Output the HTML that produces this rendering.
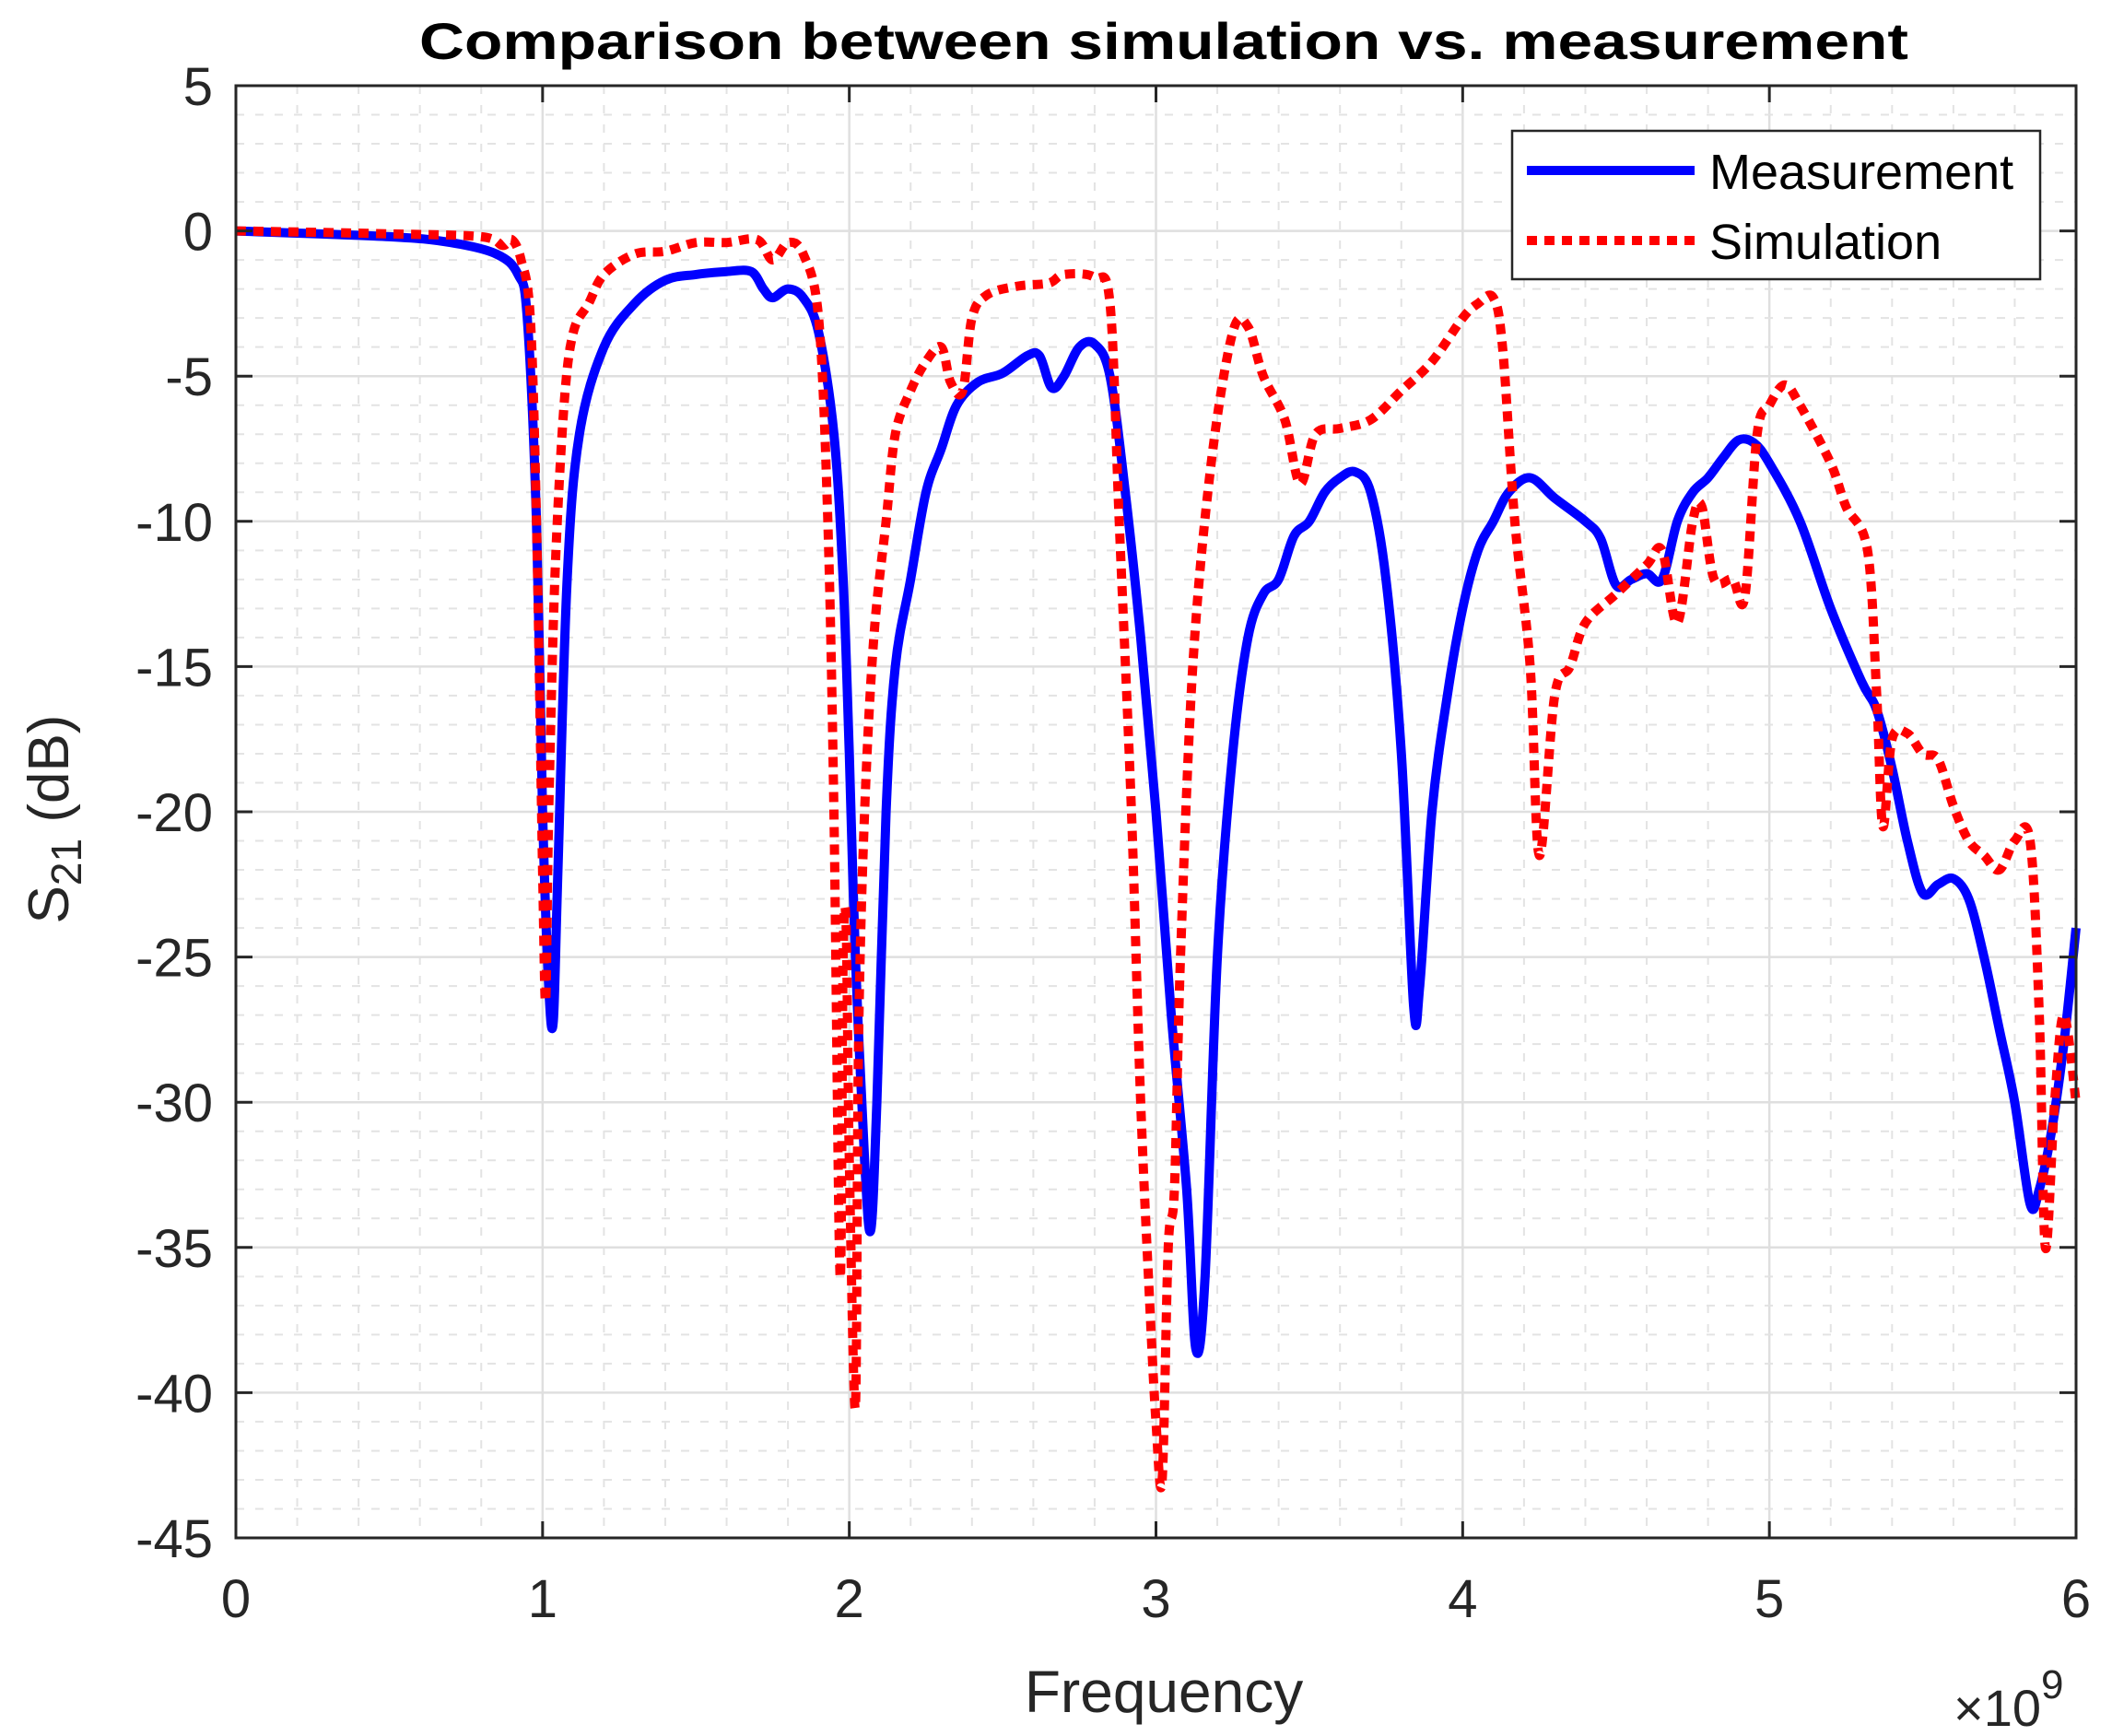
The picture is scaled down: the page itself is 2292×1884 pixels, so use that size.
<!DOCTYPE html>
<html><head><meta charset="utf-8"><style>html,body{margin:0;padding:0;background:#fff}svg{display:block}</style></head>
<body>
<svg id="s" width="2292" height="1884" viewBox="0 0 2292 1884" xmlns="http://www.w3.org/2000/svg" font-family="Liberation Sans, Arial, sans-serif">
<rect x="0" y="0" width="2292" height="1884" fill="#fff"/>
<g id="grid"></g>
<g id="series"></g>
<rect x="256" y="93" width="1997" height="1576" fill="none" stroke="#262626" stroke-width="3"/>
<g id="ticks"></g>
<text x="1263" y="64" font-size="56" font-weight="bold" text-anchor="middle" textLength="1616" lengthAdjust="spacingAndGlyphs" fill="#000">Comparison between simulation vs. measurement</text>
<text x="1263" y="1858" font-size="64" text-anchor="middle" fill="#262626">Frequency</text>
<text x="2120" y="1873" font-size="56" fill="#262626">×10<tspan font-size="44" dy="-30">9</tspan></text>
<text transform="translate(74,889) rotate(-90)" font-size="62" text-anchor="middle" fill="#262626">S<tspan font-size="46" dy="14">21</tspan><tspan dy="-14"> (dB)</tspan></text>
<rect x="1641" y="142" width="573" height="161" fill="#fff" stroke="#262626" stroke-width="2.5"/>
<line x1="1657" y1="185" x2="1839" y2="185" stroke="#0000ff" stroke-width="10"/>
<line x1="1657" y1="261" x2="1839" y2="261" stroke="#ff0000" stroke-width="10" stroke-dasharray="11,8"/>
<text x="1855" y="205" font-size="54" fill="#000">Measurement</text>
<text x="1855" y="281" font-size="54" fill="#000">Simulation</text>
</svg>
<script>
var L=256,R=2253,T=93,B=1669;
function X(f){return L+f*(R-L)/6}
function Y(d){return T+(5-d)*(B-T)/50}
var g='';
for(var i=0;i<=30;i++){var f=i*0.2,x=X(f);if(i%5==0)g+='<line x1="'+x+'" y1="'+T+'" x2="'+x+'" y2="'+B+'" stroke="#dfdfdf" stroke-width="2.5"/>';else g+='<line x1="'+x+'" y1="'+T+'" x2="'+x+'" y2="'+B+'" stroke="#e3e3e3" stroke-width="2" stroke-dasharray="9,12"/>';}
for(var d=5;d>=-45;d--){var y=Y(d);if(d%5==0)g+='<line x1="'+L+'" y1="'+y+'" x2="'+R+'" y2="'+y+'" stroke="#dfdfdf" stroke-width="2.5"/>';else g+='<line x1="'+L+'" y1="'+y+'" x2="'+R+'" y2="'+y+'" stroke="#e3e3e3" stroke-width="2" stroke-dasharray="9,12"/>';}
document.getElementById('grid').innerHTML=g;
var t='';
for(var i=0;i<=6;i++){var x=X(i);t+='<line x1="'+x+'" y1="'+B+'" x2="'+x+'" y2="'+(B-18)+'" stroke="#262626" stroke-width="3"/><line x1="'+x+'" y1="'+T+'" x2="'+x+'" y2="'+(T+18)+'" stroke="#262626" stroke-width="3"/>';t+='<text x="'+x+'" y="1755" font-size="58" text-anchor="middle" fill="#262626">'+i+'</text>';}
for(var d=5;d>=-45;d-=5){var y=Y(d);t+='<line x1="'+L+'" y1="'+y+'" x2="'+(L+18)+'" y2="'+y+'" stroke="#262626" stroke-width="3"/><line x1="'+R+'" y1="'+y+'" x2="'+(R-18)+'" y2="'+y+'" stroke="#262626" stroke-width="3"/>';t+='<text x="231" y="'+(y+21)+'" font-size="58" text-anchor="end" fill="#262626">'+d+'</text>';}
document.getElementById('ticks').innerHTML=t;
var meas=[[0,0],[0.5,-0.2],[0.7,-0.4],[0.85,-0.8],[0.92,-1.5],[0.95,-3],[0.98,-10],[1.0,-20],[1.02,-26],[1.035,-27.2],[1.05,-22],[1.08,-12],[1.12,-7],[1.2,-4],[1.3,-2.5],[1.4,-1.7],[1.5,-1.5],[1.6,-1.4],[1.68,-1.4],[1.72,-2],[1.75,-2.3],[1.8,-2],[1.85,-2.3],[1.9,-3.5],[1.95,-7],[1.98,-12],[2.0,-18],[2.02,-25],[2.05,-32],[2.07,-34.4],[2.09,-30],[2.12,-20],[2.15,-15],[2.2,-12],[2.25,-9],[2.3,-7.5],[2.35,-6],[2.42,-5.2],[2.5,-4.9],[2.58,-4.3],[2.62,-4.3],[2.66,-5.4],[2.7,-5],[2.75,-4],[2.8,-3.9],[2.85,-5],[2.9,-9],[2.95,-14],[3.0,-20],[3.05,-27],[3.1,-33],[3.13,-38.5],[3.16,-36],[3.2,-25],[3.25,-18],[3.3,-14],[3.35,-12.5],[3.4,-12],[3.45,-10.5],[3.5,-10],[3.55,-9],[3.6,-8.5],[3.65,-8.3],[3.7,-9],[3.75,-12],[3.8,-18],[3.84,-26.7],[3.86,-26],[3.9,-20],[3.95,-16],[4.0,-13],[4.05,-11],[4.1,-10],[4.15,-9],[4.22,-8.5],[4.3,-9.2],[4.4,-10],[4.45,-10.6],[4.5,-12.2],[4.55,-12],[4.6,-11.8],[4.65,-12],[4.7,-10],[4.75,-9],[4.8,-8.5],[4.85,-7.8],[4.9,-7.2],[4.95,-7.3],[5.0,-8],[5.1,-10],[5.2,-13],[5.3,-15.5],[5.35,-16.5],[5.4,-18.5],[5.45,-21],[5.5,-22.8],[5.55,-22.5],[5.6,-22.3],[5.65,-23],[5.7,-25],[5.75,-27.5],[5.8,-30],[5.85,-33.5],[5.88,-33],[5.92,-31],[5.96,-28],[6.0,-24]];
var sim=[[0,0],[0.5,-0.1],[0.8,-0.2],[0.87,-0.5],[0.9,-0.3],[0.93,-1],[0.96,-3],[0.98,-10],[1.0,-22],[1.01,-26.5],[1.02,-20],[1.04,-12],[1.07,-6],[1.1,-3.5],[1.15,-2.5],[1.2,-1.5],[1.3,-0.8],[1.4,-0.7],[1.5,-0.4],[1.6,-0.4],[1.7,-0.3],[1.75,-1],[1.8,-0.4],[1.85,-0.8],[1.9,-3],[1.93,-10],[1.95,-20],[1.97,-36],[1.98,-25],[1.99,-24],[2.0,-32],[2.02,-40.5],[2.03,-28],[2.05,-20],[2.08,-14],[2.12,-10],[2.15,-7],[2.2,-5.5],[2.25,-4.5],[2.3,-4],[2.33,-5.2],[2.37,-5.5],[2.4,-3],[2.45,-2.2],[2.55,-1.9],[2.65,-1.8],[2.7,-1.5],[2.8,-1.6],[2.85,-2.5],[2.88,-10],[2.92,-20],[2.95,-30],[2.98,-37],[3.0,-41],[3.02,-43],[3.04,-35],[3.06,-33],[3.08,-25],[3.12,-15],[3.18,-8],[3.25,-3.5],[3.3,-3.3],[3.35,-5],[3.42,-6.5],[3.47,-8.7],[3.52,-7],[3.6,-6.8],[3.7,-6.5],[3.8,-5.5],[3.9,-4.5],[4.0,-3],[4.05,-2.5],[4.1,-2.3],[4.13,-4],[4.17,-10],[4.22,-15],[4.25,-21.5],[4.3,-16],[4.35,-15],[4.4,-13.5],[4.5,-12.5],[4.6,-11.5],[4.65,-11],[4.7,-13.5],[4.75,-10],[4.78,-9.5],[4.82,-12],[4.88,-12],[4.92,-12.6],[4.96,-7],[5.0,-6],[5.05,-5.3],[5.1,-6],[5.2,-8],[5.25,-9.5],[5.32,-11],[5.35,-16],[5.37,-20.5],[5.4,-17.5],[5.45,-17.3],[5.5,-18],[5.55,-18.2],[5.6,-19.8],[5.65,-21],[5.7,-21.5],[5.75,-22],[5.8,-21],[5.85,-21],[5.88,-27],[5.9,-35],[5.93,-30],[5.96,-27],[6.0,-30]];
function P(a){var p=a.map(function(q){return [X(q[0]),Y(q[1])]});var s='M'+p[0][0].toFixed(1)+','+p[0][1].toFixed(1);
for(var i=0;i<p.length-1;i++){var p0=p[i>0?i-1:0],p1=p[i],p2=p[i+1],p3=p[i+2<p.length?i+2:i+1];var k=0.5/3;
var c1x=p1[0]+(p2[0]-p0[0])*k,c1y=p1[1]+(p2[1]-p0[1])*k,c2x=p2[0]-(p3[0]-p1[0])*k,c2y=p2[1]-(p3[1]-p1[1])*k;
s+='C'+c1x.toFixed(1)+','+c1y.toFixed(1)+' '+c2x.toFixed(1)+','+c2y.toFixed(1)+' '+p2[0].toFixed(1)+','+p2[1].toFixed(1);}return s}
document.getElementById('series').innerHTML=
'<path d="'+P(meas)+'" fill="none" stroke="#0000ff" stroke-width="10" stroke-linejoin="round"/>'+
'<path d="'+P(sim)+'" fill="none" stroke="#ff0000" stroke-width="10" stroke-dasharray="11,8" stroke-linejoin="round"/>';
</script>
</body></html>
